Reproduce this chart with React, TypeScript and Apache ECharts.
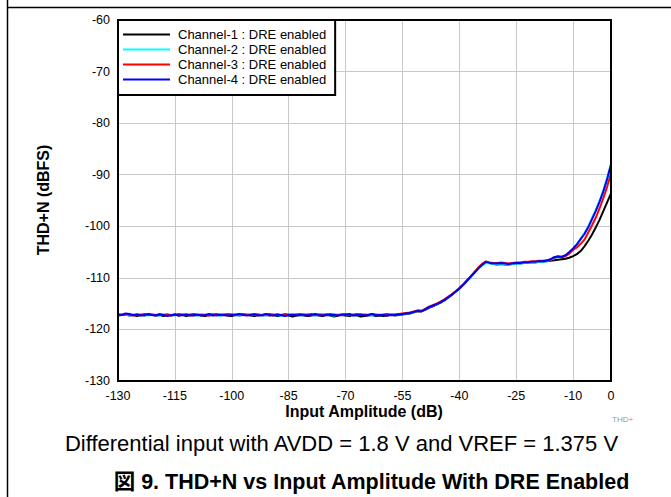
import React, { useEffect, useRef } from "react";
import * as echarts from "echarts";

// Input amplitude sweep (dB), 1 dB steps
const INPUT_DB = [
  -130, -129, -128, -127, -126, -125, -124, -123, -122, -121,
  -120, -119, -118, -117, -116, -115, -114, -113, -112, -111,
  -110, -109, -108, -107, -106, -105, -104, -103, -102, -101,
  -100, -99, -98, -97, -96, -95, -94, -93, -92, -91,
  -90, -89, -88, -87, -86, -85, -84, -83, -82, -81,
  -80, -79, -78, -77, -76, -75, -74, -73, -72, -71,
  -70, -69, -68, -67, -66, -65, -64, -63, -62, -61,
  -60, -59, -58, -57,
  -56, -55, -54, -53, -52, -51, -50, -49, -48, -47,
  -46, -45, -44, -43, -42, -41, -40, -39, -38, -37,
  -36, -35, -34, -33, -32, -31, -30, -29, -28, -27,
  -26, -25, -24, -23, -22, -21, -20, -19, -18, -17,
  -16, -15, -14, -13, -12, -11, -10, -9, -8, -7,
  -6, -5, -4, -3, -2, -1, 0,
];

// THD+N (dBFS) per channel
const CH1_THDN = [
  -117.3, -117.2, -117.1, -117.3, -117.2, -117.4, -117.2, -117.3, -117.1, -117.2,
  -117.3, -117.2, -117.4, -117.2, -117.3, -117.1, -117.3, -117.2, -117.4, -117.2,
  -117.3, -117.2, -117.3, -117.4, -117.2, -117.3, -117.1, -117.3, -117.2, -117.3,
  -117.4, -117.2, -117.3, -117.2, -117.1, -117.3, -117.4, -117.2, -117.3, -117.2,
  -117.3, -117.2, -117.4, -117.3, -117.2, -117.3, -117.5, -117.3, -117.2, -117.3,
  -117.4, -117.3, -117.2, -117.3, -117.4, -117.2, -117.3, -117.5, -117.3, -117.2,
  -117.3, -117.4, -117.2, -117.3, -117.5, -117.4, -117.3, -117.2, -117.4, -117.3,
  -117.4, -117.3, -117.2, -117.3,
  -117.2, -117.1, -117.0, -116.9, -116.7, -116.5, -116.5, -116.2, -115.8, -115.5,
  -115.2, -114.8, -114.4, -113.9, -113.3, -112.7, -112.0, -111.3, -110.5, -109.7,
  -108.9, -108.1, -107.4, -107.0, -107.1, -107.3, -107.4, -107.3, -107.4, -107.4,
  -107.3, -107.2, -107.2, -107.1, -107.1, -107.0, -107.0, -106.9, -106.9, -106.8,
  -106.7, -106.6, -106.5, -106.4, -106.3, -106.1, -105.8, -105.4, -104.8, -103.9,
  -102.8, -101.6, -100.2, -98.7, -97.0, -95.3, -93.6,
];

const CH2_THDN = [
  -117.2, -117.0, -117.1, -117.3, -117.1, -117.2, -117.0, -117.2, -117.3, -117.1,
  -117.2, -117.3, -117.1, -117.0, -117.2, -117.3, -117.1, -117.2, -117.0, -117.2,
  -117.1, -117.3, -117.2, -117.1, -117.2, -117.0, -117.2, -117.3, -117.1, -117.2,
  -117.1, -117.2, -117.3, -117.1, -117.0, -117.2, -117.2, -117.1, -117.3, -117.2,
  -117.1, -117.0, -117.2, -117.3, -117.1, -117.2, -117.2, -117.0, -117.3, -117.2,
  -117.1, -117.2, -117.3, -117.1, -117.2, -117.0, -117.2, -117.3, -117.1, -117.2,
  -117.2, -117.1, -117.2, -117.3, -117.0, -117.2, -117.1, -117.3, -117.2, -117.1,
  -117.2, -117.1, -117.2, -117.1,
  -117.1, -117.0, -116.9, -116.8, -116.6, -116.4, -116.4, -116.1, -115.7, -115.4,
  -115.1, -114.7, -114.3, -113.8, -113.3, -112.7, -112.1, -111.4, -110.6, -109.8,
  -109.0, -108.2, -107.6, -107.1, -107.2, -107.3, -107.3, -107.2, -107.3, -107.3,
  -107.3, -107.2, -107.2, -107.1, -107.1, -107.0, -107.0, -106.9, -106.9, -106.8,
  -106.5, -106.2, -106.0, -105.9, -105.7, -105.1, -104.4, -103.5, -102.4, -101.3,
  -100.0, -98.4, -96.8, -95.0, -93.0, -90.6, -87.9,
];

const CH3_THDN = [
  -117.1, -117.2, -117.0, -117.2, -117.3, -117.1, -117.2, -117.0, -117.2, -117.1,
  -117.2, -117.0, -117.2, -117.1, -117.3, -117.2, -117.0, -117.1, -117.2, -117.1,
  -117.0, -117.2, -117.1, -117.2, -117.3, -117.1, -117.0, -117.2, -117.1, -117.0,
  -117.1, -117.2, -117.1, -117.0, -117.2, -117.1, -117.0, -117.1, -117.2, -117.1,
  -117.0, -117.2, -117.1, -117.2, -117.0, -117.1, -117.2, -117.1, -117.0, -117.2,
  -117.1, -117.0, -117.2, -117.1, -117.1, -117.2, -117.0, -117.1, -117.2, -117.1,
  -117.0, -117.2, -117.1, -117.0, -117.2, -117.1, -117.2, -117.0, -117.1, -117.2,
  -117.1, -117.0, -117.2, -117.1,
  -117.0, -116.9, -116.8, -116.7, -116.5, -116.3, -116.4, -116.0, -115.6, -115.3,
  -115.0, -114.6, -114.2, -113.7, -113.2, -112.6, -112.0, -111.3, -110.5, -109.7,
  -108.9, -108.0, -107.3, -106.8, -107.0, -107.1, -107.1, -107.0, -107.1, -107.2,
  -107.1, -107.0, -107.0, -106.9, -106.9, -106.8, -106.8, -106.7, -106.7, -106.6,
  -106.5, -106.1, -105.9, -106.0, -105.8, -105.3, -104.6, -104.1, -103.4, -102.6,
  -101.2, -99.8, -98.3, -96.5, -94.5, -92.3, -89.7,
];

const CH4_THDN = [
  -117.1, -117.2, -116.9, -117.0, -117.2, -117.1, -117.3, -117.2, -117.0, -117.2,
  -117.3, -117.1, -117.2, -117.4, -117.2, -117.1, -117.3, -117.2, -117.1, -117.3,
  -117.2, -117.1, -117.3, -117.2, -117.0, -117.2, -117.3, -117.1, -117.2, -117.3,
  -117.2, -117.1, -117.0, -117.2, -117.3, -117.2, -117.1, -117.3, -117.2, -117.0,
  -117.2, -117.3, -117.1, -117.2, -117.4, -117.2, -117.1, -117.3, -117.2, -117.1,
  -117.3, -117.2, -117.0, -117.2, -117.3, -117.1, -117.2, -117.2, -117.3, -117.1,
  -117.2, -117.0, -117.3, -117.2, -117.1, -117.3, -117.2, -117.0, -117.3, -117.2,
  -117.2, -117.3, -117.1, -117.2,
  -117.1, -117.0, -116.9, -116.8, -116.6, -116.4, -116.5, -116.1, -115.7, -115.4,
  -115.1, -114.8, -114.3, -113.8, -113.3, -112.7, -112.1, -111.4, -110.6, -109.8,
  -109.0, -108.2, -107.5, -106.9, -107.1, -107.2, -107.2, -107.1, -107.2, -107.3,
  -107.2, -107.1, -107.1, -107.0, -107.0, -106.9, -106.9, -106.8, -106.8, -106.7,
  -106.4, -106.0, -105.8, -105.9, -105.6, -105.0, -104.3, -103.5, -102.5, -101.5,
  -100.2, -98.6, -97.0, -95.2, -93.2, -90.8, -88.0,
];

const CHANNEL_NAMES = [
  "Channel-1 : DRE enabled",
  "Channel-2 : DRE enabled",
  "Channel-3 : DRE enabled",
  "Channel-4 : DRE enabled",
];
const CHANNEL_COLORS = ["#000000", "#00ffff", "#ff0000", "#0000ff"];
const CHANNEL_VALUES = [CH1_THDN, CH2_THDN, CH3_THDN, CH4_THDN];

const X_MIN = -130;
const X_MAX = 0;
const X_STEP = 15;
const Y_MIN = -130;
const Y_MAX = -60;
const Y_STEP = 10;

const X_NAME = "Input Amplitude (dB)";
const Y_NAME = "THD+N (dBFS)";
const FILE_TAG = "THD+";
const CAPTION = "Differential input with AVDD = 1.8 V and VREF = 1.375 V";
const FIGURE_TITLE = "図 9. THD+N vs Input Amplitude With DRE Enabled";

const FONT = "'Liberation Sans', Arial, 'Noto Sans CJK JP', sans-serif";

// Plain horizontal stroke used as the legend key
const LEGEND_LINE_ICON = "path://M0,0 L47,0 L47,2 L0,2 Z";

export default function App() {
  const ref = useRef<HTMLDivElement>(null);

  useEffect(() => {
    document.body.style.margin = "0";
    if (!ref.current) return;
    const chart = echarts.init(ref.current, undefined, { renderer: "svg" });

    const series = CHANNEL_NAMES.map((name, k) => ({
      name,
      type: "line",
      symbol: "none",
      showSymbol: false,
      smooth: false,
      color: CHANNEL_COLORS[k],
      lineStyle: { color: CHANNEL_COLORS[k], width: 2 },
      data: INPUT_DB.map((x, i) => [x, CHANNEL_VALUES[k][i]]),
      z: 3 + k,
    }));

    chart.setOption({
      animation: false,
      backgroundColor: "#ffffff",
      textStyle: { fontFamily: FONT },
      grid: {
        left: 118,
        right: 60,
        top: 20,
        bottom: 116,
        show: true,
        borderColor: "#000000",
        borderWidth: 2,
        backgroundColor: "transparent",
        z: 10,
      },
      legend: {
        orient: "vertical",
        left: 118,
        top: 20,
        icon: LEGEND_LINE_ICON,
        itemWidth: 47,
        itemHeight: 15,
        itemGap: 0,
        padding: [7, 9, 8, 5],
        backgroundColor: "#ffffff",
        borderColor: "#000000",
        borderWidth: 2,
        z: 20,
        textStyle: {
          fontFamily: FONT,
          fontSize: 13,
          lineHeight: 15,
          color: "#000000",
          padding: [0, 0, 0, 3],
        },
        data: CHANNEL_NAMES,
      },
      xAxis: {
        type: "value",
        min: X_MIN,
        max: X_MAX,
        interval: X_STEP,
        axisLine: { show: false },
        axisTick: { show: false },
        axisLabel: {
          color: "#000000",
          fontFamily: FONT,
          fontSize: 12.5,
          margin: 9,
          showMinLabel: true,
          showMaxLabel: true,
        },
        splitLine: { show: true, lineStyle: { color: "#c8c8c8", width: 1 } },
      },
      yAxis: {
        type: "value",
        min: Y_MIN,
        max: Y_MAX,
        interval: Y_STEP,
        axisLine: { show: false },
        axisTick: { show: false },
        axisLabel: {
          color: "#000000",
          fontFamily: FONT,
          fontSize: 12.5,
          margin: 8,
        },
        splitLine: { show: true, lineStyle: { color: "#c8c8c8", width: 1 } },
      },
      series,
      graphic: [
        {
          type: "line",
          shape: { x1: 7.5, y1: 0, x2: 7.5, y2: 497 },
          style: { stroke: "#000000", lineWidth: 1.5 },
        },
        {
          type: "line",
          shape: { x1: 7.5, y1: 7.5, x2: 671, y2: 7.5 },
          style: { stroke: "#000000", lineWidth: 1.5 },
        },
        {
          type: "text",
          x: 43,
          y: 200,
          rotation: Math.PI / 2,
          style: {
            text: Y_NAME,
            font: `bold 16px ${FONT}`,
            fill: "#000000",
            textAlign: "center",
            textVerticalAlign: "middle",
          },
        },
        {
          type: "text",
          x: 364,
          y: 411,
          style: {
            text: X_NAME,
            font: `bold 16px ${FONT}`,
            fill: "#000000",
            textAlign: "center",
            textVerticalAlign: "middle",
          },
        },
        {
          type: "text",
          x: 612,
          y: 419,
          style: {
            text: FILE_TAG,
            font: `8px ${FONT}`,
            fill: "#9a9a9a",
            textAlign: "left",
            textVerticalAlign: "middle",
          },
        },
        {
          type: "text",
          x: 341.5,
          y: 443,
          style: {
            text: CAPTION,
            font: `22px ${FONT}`,
            fill: "#000000",
            textAlign: "center",
            textVerticalAlign: "middle",
          },
        },
        {
          type: "text",
          x: 371.5,
          y: 482,
          style: {
            text: FIGURE_TITLE,
            font: `bold 21.5px ${FONT}`,
            fill: "#000000",
            textAlign: "center",
            textVerticalAlign: "middle",
          },
        },
      ],
    });

    return () => chart.dispose();
  }, []);

  return <div ref={ref} style={{ width: 671, height: 497 }} />;
}
